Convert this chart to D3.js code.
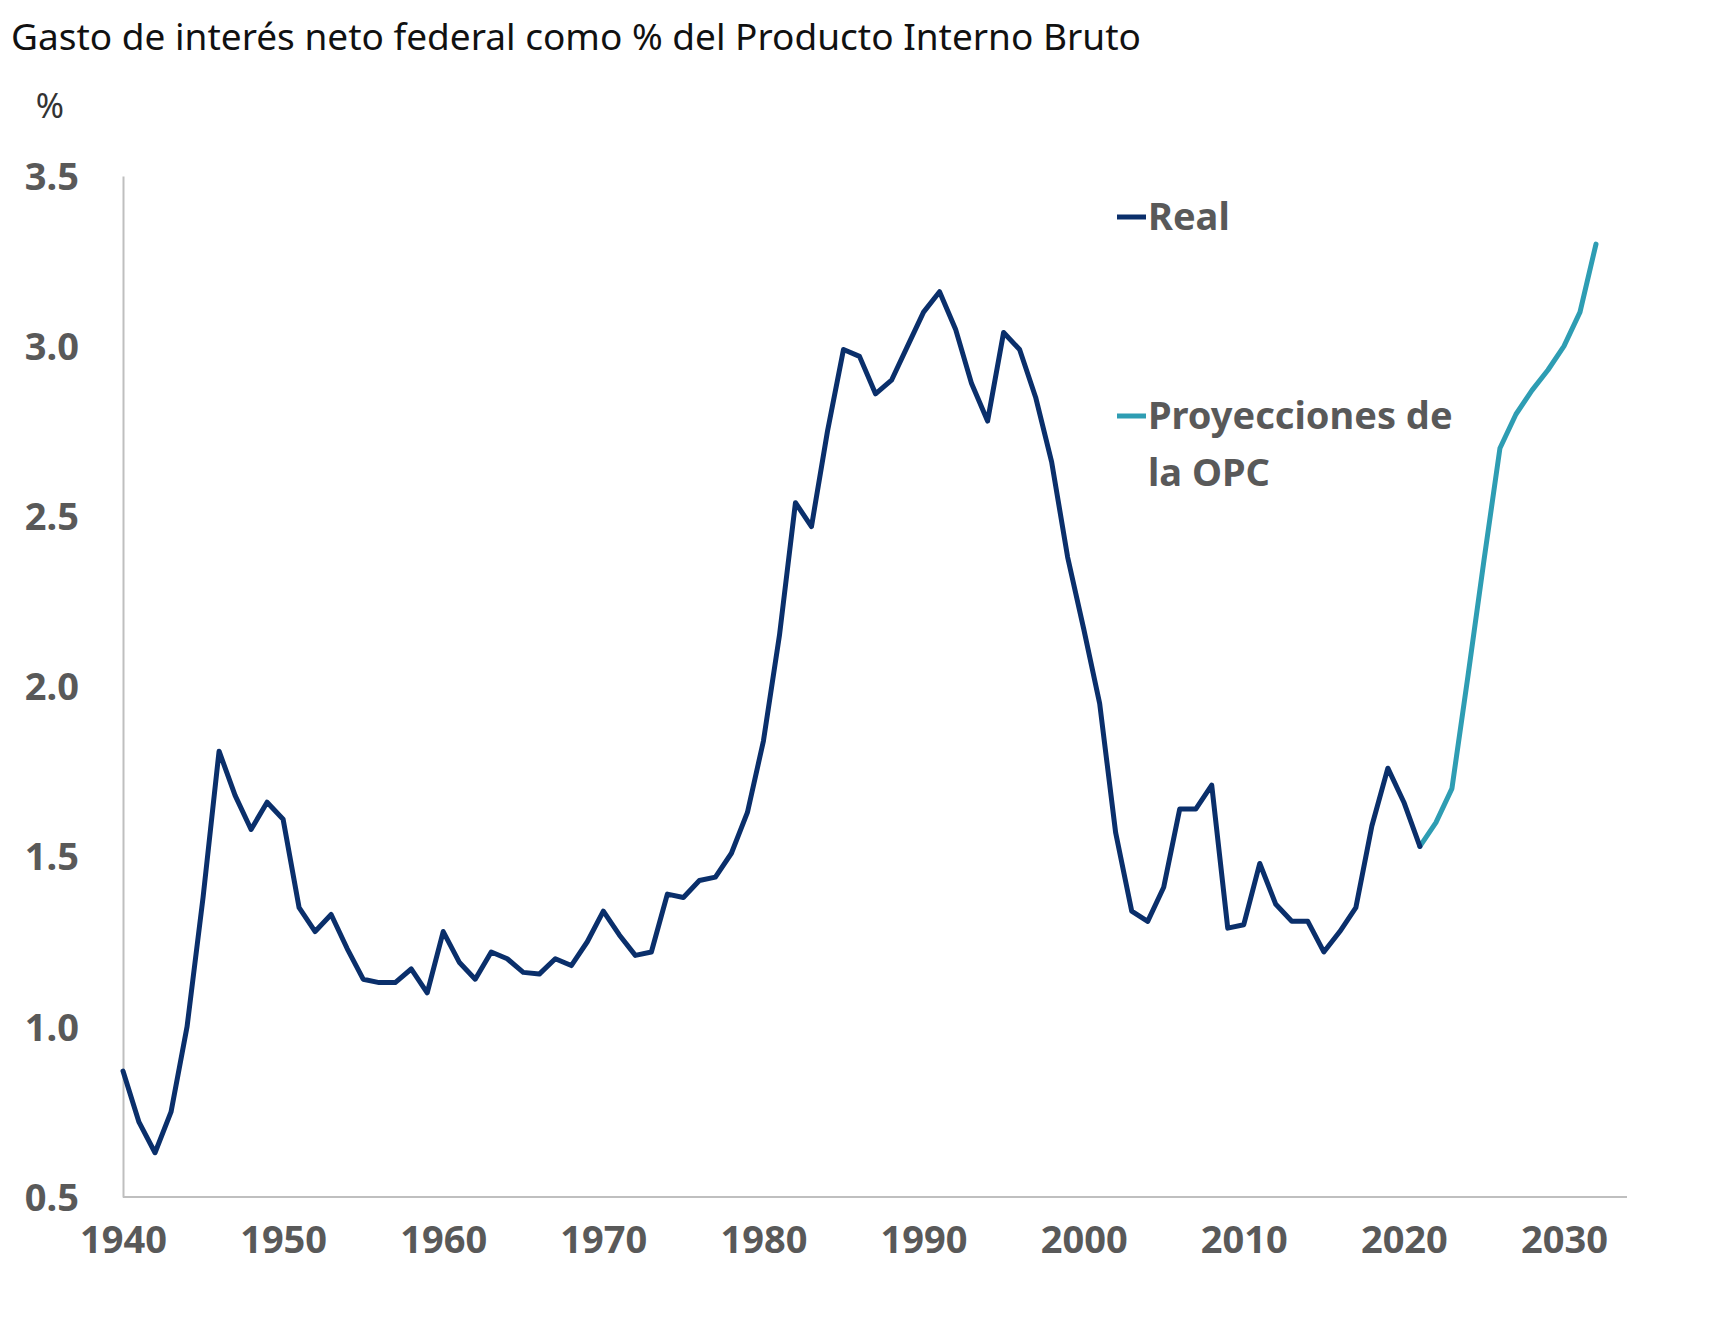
<!DOCTYPE html>
<html>
<head>
<meta charset="utf-8">
<script src="https://cdn.jsdelivr.net/npm/d3@7"></script>
<style>
  body { margin: 0; background: #fff; }
  text { font-family: "Noto Sans", sans-serif; }
</style>
</head>
<body>
<div id="chart"></div>
<script>
'use strict';
// yearly values
const realYears = d3.range(1940, 2022);
const realValues = [0.87, 0.72, 0.63, 0.75, 1.00, 1.38, 1.81, 1.68, 1.58, 1.66,
    1.61, 1.35, 1.28, 1.33, 1.23, 1.14, 1.13, 1.13, 1.17, 1.10,
    1.28, 1.19, 1.14, 1.22, 1.20, 1.16, 1.155, 1.20, 1.18, 1.25,
    1.34, 1.27, 1.21, 1.22, 1.39, 1.38, 1.43, 1.44, 1.51, 1.63,
    1.84, 2.15, 2.54, 2.47, 2.75, 2.99, 2.97, 2.86, 2.90, 3.00,
    3.10, 3.16, 3.05, 2.89, 2.78, 3.04, 2.99, 2.85, 2.66, 2.38,
    2.17, 1.95, 1.57, 1.34, 1.31, 1.41, 1.64, 1.64, 1.71, 1.29,
    1.30, 1.48, 1.36, 1.31, 1.31, 1.22, 1.28, 1.35, 1.59, 1.76,
    1.66, 1.53];
const projYears = d3.range(2021, 2033);
const projValues = [1.53, 1.60, 1.70, 2.03, 2.37, 2.70, 2.80, 2.87, 2.93, 3.00, 3.10, 3.30];
const yTicks = [0.5, 1.0, 1.5, 2.0, 2.5, 3.0, 3.5];
const xTicks = [1940, 1950, 1960, 1970, 1980, 1990, 2000, 2010, 2020, 2030];

const W = 1728, H = 1344;
const margin = { left: 123, right: 101, top: 176, bottom: 147 };
const width = W - margin.left - margin.right;
const height = H - margin.top - margin.bottom;

const svg = d3.select("#chart").append("svg")
    .attr("width", W).attr("height", H);

svg.append("text").attr("x", 11).attr("y", 50)
    .attr("font-size", 37).attr("fill", "#111")
    .text("Gasto de interés neto federal como % del Producto Interno Bruto");
svg.append("text").attr("x", 50).attr("y", 118)
    .attr("text-anchor", "middle").attr("font-size", 34).attr("fill", "#333")
    .text("%");

const g = svg.append("g")
    .attr("transform", "translate(" + margin.left + "," + margin.top + ")");

//2032 sits a bit before the end of the axis line
const x = d3.scaleLinear().domain([1940, 2032]).range([0, 1473]);
const y = d3.scaleLinear().domain([0.5, 3.5]).range([height, 0]);

// axes
const xAxis = g.append("g").attr("transform", "translate(0," + height + ")")
    .call(d3.axisBottom(x).tickValues(xTicks).tickFormat(d3.format("d")).tickSize(0).tickPadding(22));
xAxis.select(".domain").attr("d", "M0,0H" + width).attr("stroke", "#bfbfbf").attr("stroke-width", 2);
const yAxis = g.append("g")
    .call(d3.axisLeft(y).tickValues(yTicks).tickFormat(d3.format(".1f")).tickSize(0).tickPadding(44));
yAxis.select(".domain").attr("stroke", "#bfbfbf").attr("stroke-width", 2);
g.selectAll(".tick text")
    .attr("font-family", "Noto Sans, sans-serif")
    .attr("font-size", 38).attr("font-weight", "bold").attr("fill", "#595959");
yAxis.selectAll(".tick text").attr("dy", "0.35em");
xAxis.selectAll(".tick text").attr("dy", "0.9em");

const line = d3.line()
    .x(function(d) { return x(d[0]); })
    .y(function(d) { return y(d[1]); });

g.append("path").datum(d3.zip(projYears, projValues))
    .attr("fill", "none").attr("stroke", "#2e9db3").attr("stroke-width", 5)
    .attr("stroke-linejoin", "round").attr("stroke-linecap", "round")
    .attr("d", line);
g.append("path").datum(d3.zip(realYears, realValues))
    .attr("fill", "none").attr("stroke", "#0a2f6b").attr("stroke-width", 5)
    .attr("stroke-linejoin", "round").attr("stroke-linecap", "round")
    .attr("d", line);

// legend
const legend = [
    { color: "#0a2f6b", lines: ["Real"], y: 217 },
    { color: "#2e9db3", lines: ["Proyecciones de", "la OPC"], y: 416 }
];
legend.forEach(function(l) {
    svg.append("line").attr("x1", 1117).attr("x2", 1146)
        .attr("y1", l.y).attr("y2", l.y)
        .attr("stroke", l.color).attr("stroke-width", 5);
    l.lines.forEach(function(t, i) {
        svg.append("text").attr("x", 1148).attr("y", l.y + 13 + i * 57)
            .attr("font-size", 38).attr("font-weight", "bold").attr("fill", "#595959")
            .text(t);
    });
});
</script>
</body>
</html>
